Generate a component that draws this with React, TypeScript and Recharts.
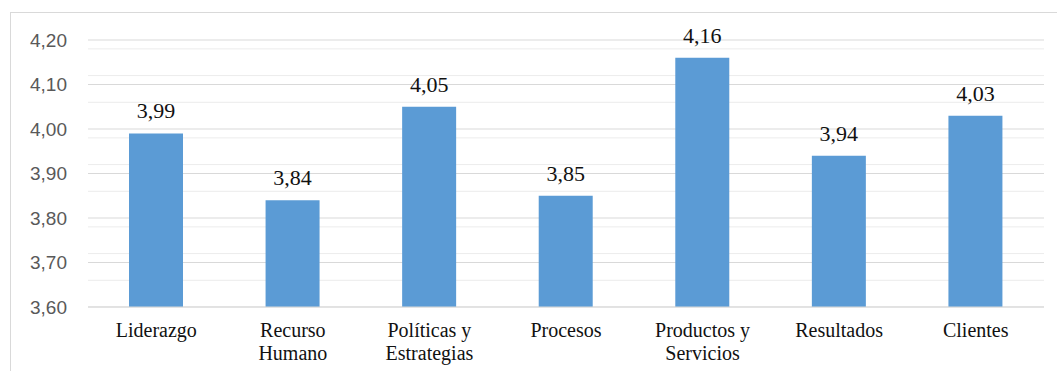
import React from 'react';
import { BarChart, Bar, XAxis, YAxis, CartesianGrid, LabelList } from 'recharts';

const categories = [
  'Liderazgo',
  'Recurso\nHumano',
  'Políticas y\nEstrategias',
  'Procesos',
  'Productos y\nServicios',
  'Resultados',
  'Clientes',
];
const values = [3.99, 3.84, 4.05, 3.85, 4.16, 3.94, 4.03];
const yTicks = [3.6, 3.7, 3.8, 3.9, 4.0, 4.1, 4.2];
const minorTicks = [
  3.62, 3.64, 3.66, 3.68, 3.72, 3.74, 3.76, 3.78, 3.82, 3.84, 3.86, 3.88,
  3.92, 3.94, 3.96, 3.98, 4.02, 4.04, 4.06, 4.08, 4.12, 4.14, 4.16, 4.18,
];

const data = categories.map((name, i) => ({ name, value: values[i] }));

const SERIF = "'Times New Roman', 'Liberation Serif', serif";
const comma = (v: number) => v.toFixed(2).replace('.', ',');

const CategoryTick = ({ x, y, payload }: any) => {
  const lines = String(payload.value).split('\n');
  return (
    <text
      x={x}
      y={y}
      textAnchor='middle'
      fontFamily={SERIF}
      fontSize={20}
      fill='#111'
    >
      {lines.map((line, i) => (
        <tspan key={i} x={x} dy={i === 0 ? 22 : 22.5}>
          {line}
        </tspan>
      ))}
    </text>
  );
};

const ValueLabel = ({ x, y, width, value }: any) => (
  <text
    x={x + width / 2}
    y={y - 15}
    textAnchor='middle'
    fontFamily={SERIF}
    fontSize={22}
    fill='#111'
  >
    {comma(Number(value))}
  </text>
);

const App = () => {
  return (
    <div
      style={{
        position: 'absolute',
        left: 0,
        top: 0,
        width: 1057,
        height: 371,
        background: '#fff',
        overflow: 'hidden',
      }}
    >
      <div
        style={{
          position: 'absolute',
          left: 10,
          top: 12,
          width: 1100,
          height: 400,
          borderLeft: '1px solid #d9d9d9',
          borderTop: '1px solid #d9d9d9',
        }}
      />
      <div style={{ position: 'absolute', left: 0, top: 0 }}>
        <BarChart
          width={1057}
          height={371}
          data={data}
          margin={{ top: 40, right: 13, left: 8, bottom: 4 }}
          barSize={54}
        >
          <CartesianGrid
            vertical={false}
            stroke='#ececec'
            horizontalValues={minorTicks}
          />
          <CartesianGrid vertical={false} stroke='#d9d9d9' />
          <XAxis
            dataKey='name'
            interval={0}
            height={60}
            tickLine={false}
            axisLine={{ stroke: '#d9d9d9' }}
            tick={<CategoryTick />}
          />
          <YAxis
            domain={[3.6, 4.2]}
            ticks={yTicks}
            width={80}
            axisLine={false}
            tickLine={false}
            tickSize={0}
            tickMargin={21}
            tickFormatter={comma}
            tick={{
              fill: '#595959',
              fontSize: 19,
              fontFamily: "'Liberation Sans', Arial, sans-serif",
            }}
            allowDataOverflow
          />
          <Bar dataKey='value' fill='#5B9BD5' isAnimationActive={false}>
            <LabelList dataKey='value' content={<ValueLabel />} />
          </Bar>
        </BarChart>
      </div>
    </div>
  );
};

export default App;
